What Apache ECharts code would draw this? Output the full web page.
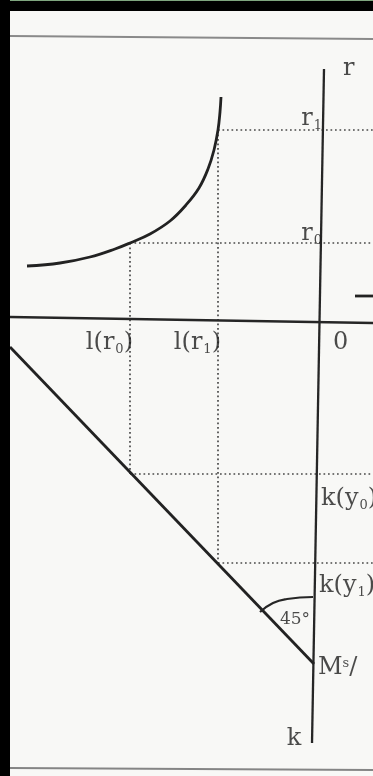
<!DOCTYPE html>
<html>
<head>
<meta charset="utf-8">
<script src="https://cdn.jsdelivr.net/npm/echarts@6/dist/echarts.min.js"></script>
<style>
  html, body { margin: 0; padding: 0; background: #000; }
  #chart { width: 373px; height: 776px; }
</style>
</head>
<body>
<div id="chart"></div>
<script>
// figure coordinates: x to the right, y downwards (page units)
var curveX = [27, 60, 90, 115, 130, 150, 170, 186, 199, 208, 214, 218, 220, 221];
var curveY = [266, 263, 257, 249, 243, 234, 221, 205, 188, 169, 150, 130, 112, 97];

var rAxis = [[324, 69], [312, 743]];
var lAxis = [[10, 317], [373, 323]];
var diagonal = [[10, 347], [314, 664]];
var arc45 = [[313, 597], [287, 599], [273, 603], [260, 612]];
var stub = [[355, 296], [373, 296]];

var topRule = [[10, 36], [373, 39]];
var bottomRule = [[10, 768], [373, 770]];

var dotted = [
    [[218, 130], [373, 130]],
    [[130, 243], [373, 243]],
    [[130, 243], [130, 474]],
    [[218, 130], [218, 563]],
    [[130, 474], [373, 474]],
    [[218, 563], [373, 563]]
];

var labelText = ['{a|r}', '{a|r}{s|1}', '{a|r}{s|0}', '{a|l(r}{s|0}{a|)}', '{a|l(r}{s|1}{a|)}',
    '{a|0}', '{a|k(y}{s|0}{a|)}', '{a|k(y}{s|1}{a|)}', '{b|45°}', '{a|M}{p|s}{a|/}', '{a|k}'];
var labelPos = [[343, 69], [322, 119], [322, 234], [133, 343], [221, 343],
    [333, 343], [321, 499], [319, 586], [295, 620], [318, 668], [294, 739]];
var labelAlign = ['left', 'right', 'right', 'right', 'right',
    'left', 'left', 'left', 'center', 'left', 'center'];

function seg(data, color, width, type, smooth, z) {
    return {
        type: 'line',
        data: data,
        showSymbol: false,
        smooth: smooth || false,
        silent: true,
        z: z || 2,
        lineStyle: {color: color, width: width, type: type || 'solid'}
    };
}

var curve = [];
for (var i = 0; i < curveX.length; i++) {
    curve.push([curveX[i], curveY[i]]);
}

var series = [];
series.push(seg(topRule, '#8a8a8a', 2));
series.push(seg(bottomRule, '#858585', 2));
for (var d = 0; d < dotted.length; d++) {
    series.push(seg(dotted[d], '#4a4a4a', 1.7, [1.7, 2.8]));
}
series.push(seg(rAxis, '#262626', 2.3, 'solid', false, 3));
series.push(seg(lAxis, '#262626', 2.3, 'solid', false, 3));
series.push(seg(curve, '#222', 2.8, 'solid', 0.4, 4));
series.push(seg(diagonal, '#222', 2.8, 'solid', false, 4));
series.push(seg(arc45, '#262626', 2.2, 'solid', true, 4));
series.push(seg(stub, '#222', 2.8, 'solid', false, 4));

var labelData = [];
for (var j = 0; j < labelText.length; j++) {
    labelData.push({
        value: labelPos[j],
        label: {formatter: labelText[j], align: labelAlign[j]}
    });
}
series.push({
    type: 'scatter',
    data: labelData,
    symbolSize: 0,
    silent: true,
    z: 6,
    label: {
        show: true,
        position: 'inside',
        verticalAlign: 'middle',
        color: '#1e1e1e',
        rich: {
            a: {fontFamily: 'DejaVu Serif', fontSize: 24, color: '#1e1e1e', lineHeight: 27},
            s: {fontFamily: 'DejaVu Serif', fontSize: 13, color: '#1e1e1e', padding: [13, 0, 0, 1]},
            p: {fontFamily: 'DejaVu Serif', fontSize: 13, color: '#1e1e1e', padding: [0, 0, 9, 0]},
            b: {fontFamily: 'DejaVu Serif', fontSize: 17, color: '#1e1e1e'}
        }
    }
});

var chart = echarts.init(document.getElementById('chart'));
var option = {
    animation: false,
    backgroundColor: '#f8f8f6',
    grid: {left: 0, right: 0, top: 0, bottom: 0},
    xAxis: {type: 'value', min: 0, max: 373, show: false},
    yAxis: {type: 'value', min: 0, max: 776, inverse: true, show: false},
    graphic: [
        {type: 'rect', shape: {x: 0, y: 0, width: 373, height: 11}, style: {fill: '#000'}, z: 10},
        {type: 'rect', shape: {x: 0, y: 0, width: 10, height: 776}, style: {fill: '#000'}, z: 10},
        {type: 'rect', shape: {x: 10, y: 0, width: 363, height: 1}, style: {fill: '#7fa67f'}, z: 11}
    ],
    series: series
};
chart.setOption(option);
</script>
</body>
</html>
